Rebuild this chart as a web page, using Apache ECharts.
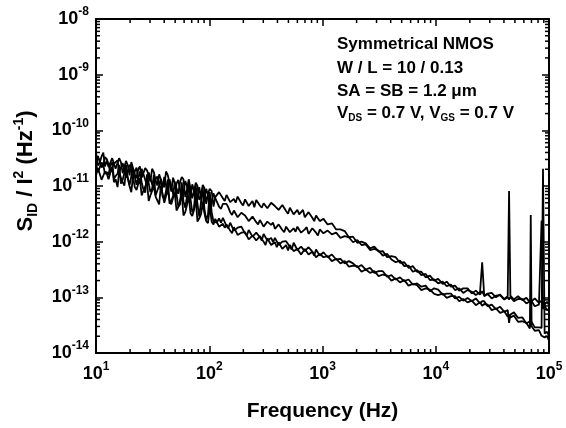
<!DOCTYPE html>
<html><head><meta charset="utf-8">
<script src="https://cdn.jsdelivr.net/npm/echarts@6/dist/echarts.min.js"></script>
<style>html,body{margin:0;padding:0;background:#fff}#c{width:566px;height:428px}</style>
</head><body><div id="c"></div>
<script>
// Frequency points (Hz), main sweep
const freq = [
 10,10.8,11.6,12.5,13.4,14.4,15.5,16.6,17.8,19.1,20.5,22,23.6,25.3,27.2,29.2,31.3,33.6,36.1,38.7,41.5,44.6,47.9,51.4,55.2,59.2,63.6,68.3,73.3,78.7,84.5,90.7,97.4,
 105,113,122,132,142,153,165,178,192,207,223,241,260,280,302,326,352,380,410,442,477,515,556,600,647,698,753,813,877,946,
 1020,1110,1210,1320,1440,1570,1710,1860,2030,2210,2410,2630,2870,3130,3410,3720,4060,4430,4830,5270,5750,6270,6840,7460,8140,8880,9690,
 10500,11500,12500,13600,14800,16100,17500,19100,20800,22600,24600,25700,26800,28700,31200,34000,37000,40300,43200,44400,45600,49000,53300,58000,63200,67800,69000,70200,74900,81500,86000,88500,91500,96000,100000
];
// S_ID / I^2 (1/Hz), four devices, main sweep
const sA = [
 3.98e-11,2.63e-11,3.98e-11,2.88e-11,2.14e-11,3.24e-11,2.19e-11,2.69e-11,1.66e-11,2.34e-11,2.69e-11,1.62e-11,2.0e-11,1.41e-11,2.09e-11,1.55e-11,2.04e-11,1.26e-11,1.62e-11,1.05e-11,1.82e-11,1.15e-11,1.41e-11,9.12e-12,1.17e-11,1.32e-11,8.51e-12,1.26e-11,7.94e-12,1.0e-11,6.61e-12,9.12e-12,7.24e-12,
 8.13e-12,6.31e-12,7.76e-12,6.03e-12,6.92e-12,5.13e-12,5.89e-12,6.46e-12,4.90e-12,5.75e-12,4.37e-12,5.37e-12,5.62e-12,4.47e-12,4.90e-12,3.98e-12,5.01e-12,4.37e-12,3.72e-12,4.57e-12,3.55e-12,4.07e-12,3.09e-12,3.72e-12,3.39e-12,2.75e-12,3.39e-12,2.69e-12,2.95e-12,2.34e-12,
 2.57e-12,2.04e-12,2.14e-12,1.66e-12,1.66e-12,1.55e-12,1.20e-12,1.23e-12,9.55e-13,1.0e-12,9.33e-13,7.59e-13,8.13e-13,6.61e-13,6.76e-13,5.25e-13,5.50e-13,5.25e-13,4.17e-13,4.27e-13,3.39e-13,3.63e-13,2.88e-13,2.88e-13,2.29e-13,2.45e-13,2.0e-13,
 2.14e-13,1.74e-13,1.91e-13,1.55e-13,1.62e-13,1.32e-13,1.45e-13,1.45e-13,1.17e-13,1.32e-13,1.12e-13,1.29e-13,1.07e-13,1.17e-13,1.20e-13,1.0e-13,1.12e-13,9.33e-14,1.05e-13,8.13e-12,1.07e-13,9.12e-14,1.05e-13,8.91e-14,9.77e-14,8.13e-14,9.55e-14,8.51e-14,9.55e-14,7.94e-14,8.71e-14,8.91e-14,7.41e-14,8.32e-14,7.24e-14
];
const sB = [
 2.34e-11,3.55e-11,2.40e-11,3.02e-11,1.82e-11,2.51e-11,2.88e-11,1.70e-11,2.0e-11,1.38e-11,2.09e-11,1.82e-11,1.29e-11,2.04e-11,1.29e-11,1.74e-11,1.07e-11,1.32e-11,1.55e-11,9.77e-12,1.05e-11,1.32e-11,7.41e-12,1.10e-11,1.23e-11,7.76e-12,1.0e-11,6.17e-12,8.32e-12,6.03e-12,8.91e-12,6.03e-12,6.92e-12,
 5.25e-12,6.03e-12,4.27e-12,4.79e-12,4.79e-12,3.39e-12,3.63e-12,2.75e-12,3.31e-12,2.95e-12,2.34e-12,2.82e-12,2.24e-12,2.45e-12,1.86e-12,2.29e-12,2.0e-12,1.70e-12,2.04e-12,1.62e-12,1.86e-12,1.48e-12,1.74e-12,1.86e-12,1.45e-12,1.66e-12,1.38e-12,1.74e-12,1.45e-12,1.66e-12,
 1.41e-12,1.58e-12,1.35e-12,1.45e-12,1.17e-12,1.26e-12,1.20e-12,9.77e-13,1.07e-12,8.71e-13,8.91e-13,7.08e-13,7.41e-13,6.92e-13,5.62e-13,6.03e-13,4.79e-13,4.27e-13,4.57e-13,3.63e-13,3.72e-13,2.88e-13,3.09e-13,2.51e-13,2.63e-13,2.04e-13,2.09e-13,
 1.78e-13,1.91e-13,1.58e-13,1.70e-13,1.35e-13,1.45e-13,1.20e-13,1.35e-13,1.26e-13,1.10e-13,1.23e-13,4.27e-13,1.05e-13,1.15e-13,9.55e-14,1.07e-13,1.10e-13,9.12e-14,1.0e-13,9.12e-14,1.02e-13,8.51e-14,9.33e-14,9.33e-14,7.76e-14,8.51e-14,7.59e-14,8.51e-14,6.92e-14,7.41e-14,2.40e-12,6.17e-14,7.08e-14,5.89e-14,6.17e-14
];
const sC = [
 2.51e-11,1.66e-11,2.40e-11,1.78e-11,2.34e-11,1.35e-11,1.66e-11,1.10e-11,1.74e-11,1.35e-11,1.05e-11,1.48e-11,1.0e-11,1.17e-11,7.59e-12,1.12e-11,8.91e-12,6.76e-12,1.02e-11,6.46e-12,7.94e-12,4.79e-12,6.61e-12,7.08e-12,4.68e-12,5.25e-12,3.80e-12,5.89e-12,3.89e-12,4.79e-12,2.88e-12,3.89e-12,3.02e-12,
 3.39e-12,2.40e-12,2.63e-12,2.69e-12,1.91e-12,2.19e-12,1.58e-12,1.78e-12,1.86e-12,1.41e-12,1.62e-12,1.23e-12,1.45e-12,1.20e-12,1.38e-12,1.05e-12,1.17e-12,1.17e-12,8.71e-13,1.0e-12,1.02e-12,8.13e-13,9.55e-13,7.08e-13,8.13e-13,6.76e-13,7.94e-13,6.61e-13,7.24e-13,5.62e-13,
 6.46e-13,5.25e-13,5.89e-13,4.79e-13,4.90e-13,4.07e-13,4.47e-13,4.07e-13,3.47e-13,3.80e-13,3.16e-13,3.39e-13,2.75e-13,2.95e-13,2.95e-13,2.34e-13,2.51e-13,2.09e-13,2.29e-13,1.95e-13,2.09e-13,1.70e-13,1.78e-13,1.55e-13,1.62e-13,1.29e-13,1.45e-13,
 1.38e-13,1.12e-13,1.17e-13,1.17e-13,9.55e-14,1.02e-13,8.71e-14,9.77e-14,8.51e-14,9.55e-14,7.76e-14,8.51e-14,8.51e-14,6.92e-14,7.41e-14,6.17e-14,6.76e-14,5.50e-14,5.89e-14,3.47e-14,4.90e-14,5.37e-14,4.27e-14,4.37e-14,3.39e-14,3.72e-14,3.24e-14,3.63e-14,2.88e-14,2.88e-14,2.82e-14,2.04e-11,2.24e-14,2.40e-14,2.04e-14
];
const sD = [
 1.55e-11,2.04e-11,1.20e-11,1.62e-11,1.74e-11,1.17e-11,9.55e-12,1.38e-11,1.02e-11,1.38e-11,7.76e-12,9.55e-12,1.10e-11,6.76e-12,8.51e-12,5.37e-12,8.13e-12,6.46e-12,4.68e-12,7.24e-12,4.79e-12,5.62e-12,6.17e-12,3.63e-12,4.37e-12,2.95e-12,4.57e-12,3.24e-12,3.72e-12,2.29e-12,3.09e-12,3.24e-12,2.14e-12,
 2.29e-12,2.57e-12,1.86e-12,2.09e-12,2.04e-12,1.58e-12,1.82e-12,1.32e-12,1.45e-12,1.48e-12,1.10e-12,1.29e-12,1.05e-12,1.26e-12,1.0e-12,1.15e-12,8.71e-13,9.77e-13,9.77e-13,7.41e-13,8.71e-13,8.71e-13,6.76e-13,7.41e-13,5.89e-13,7.41e-13,5.89e-13,6.61e-13,5.25e-13,6.03e-13,
 5.25e-13,5.50e-13,4.47e-13,4.90e-13,4.07e-13,4.47e-13,3.55e-13,3.72e-13,3.63e-13,2.88e-13,3.16e-13,2.75e-13,2.95e-13,2.40e-13,2.57e-13,2.45e-13,2.0e-13,2.19e-13,1.86e-13,2.04e-13,1.62e-13,1.74e-13,1.66e-13,1.35e-13,1.45e-13,1.38e-13,1.15e-13,
 1.10e-13,1.17e-13,9.77e-14,1.05e-13,1.05e-13,8.51e-14,9.33e-14,8.13e-14,8.71e-14,7.24e-14,8.13e-14,7.08e-14,7.59e-14,7.41e-14,5.89e-14,6.31e-14,5.25e-14,5.62e-14,4.47e-14,4.90e-14,4.37e-14,4.68e-14,3.63e-14,3.72e-14,3.47e-14,2.75e-14,3.02e-12,3.02e-14,2.51e-14,2.57e-14,2.04e-14,2.19e-14,1.91e-14,2.0e-14,1.66e-14
];
// extra low-frequency readings (Hz) and values
const freqX = [
 10.4,11.2,12.0,12.9,13.9,14.9,16.0,17.2,18.4,19.8,21.2,22.8,24.4,26.2,28.2,30.2,32.4,34.8,37.4,40.1,43.0,46.2,49.6,53.3,57.2,61.4,65.9,70.8,76.0,81.6,87.6,94.0,
 101,109,117,127,137,147,159,171,185,199,215,232,250,270,291,314,339,366,395,426,459,496,535,578,623,672,725,783,845,911
];
const sAx = [
 2.34e-11,3.39e-11,2.24e-11,2.19e-11,3.16e-11,2.04e-11,3.16e-11,1.70e-11,2.82e-11,1.55e-11,2.57e-11,1.38e-11,2.24e-11,1.32e-11,1.91e-11,1.20e-11,1.78e-11,1.02e-11,1.62e-11,9.55e-12,1.58e-11,7.94e-12,1.51e-11,7.24e-12,1.45e-11,6.31e-12,1.32e-11,6.03e-12,1.15e-11,5.62e-12,1.05e-11,4.79e-12,
 8.91e-12,4.27e-12,6.03e-12,7.76e-12,5.37e-12,6.76e-12,4.79e-12,5.01e-12,6.17e-12,4.47e-12,6.03e-12,4.47e-12,4.17e-12,5.50e-12,4.07e-12,5.13e-12,3.72e-12,4.68e-12,4.68e-12,3.47e-12,4.27e-12,3.16e-12,4.07e-12,3.09e-12,3.09e-12,3.72e-12,2.63e-12,3.24e-12,2.34e-12,3.02e-12
];
const sBx = [
 3.47e-11,2.14e-11,3.31e-11,3.02e-11,1.95e-11,2.69e-11,1.74e-11,2.57e-11,1.41e-11,2.40e-11,1.29e-11,2.14e-11,1.12e-11,2.04e-11,1.05e-11,1.70e-11,9.55e-12,1.48e-11,8.32e-12,1.45e-11,7.08e-12,1.41e-11,6.46e-12,1.29e-11,5.50e-12,1.23e-11,5.25e-12,1.07e-11,4.90e-12,9.55e-12,4.17e-12,8.91e-12,
 3.63e-12,7.41e-12,5.62e-12,3.89e-12,4.79e-12,4.17e-12,3.02e-12,3.80e-12,2.69e-12,3.31e-12,2.95e-12,2.19e-12,2.82e-12,2.04e-12,2.51e-12,1.78e-12,2.24e-12,2.19e-12,1.62e-12,2.04e-12,1.48e-12,1.86e-12,1.38e-12,1.51e-12,1.82e-12,1.38e-12,1.82e-12,1.38e-12,1.74e-12,1.29e-12
];
const sCx = [
 1.78e-11,2.63e-11,1.66e-11,1.58e-11,2.69e-11,1.51e-11,2.40e-11,1.29e-11,2.40e-11,1.05e-11,2.09e-11,1.05e-11,1.82e-11,8.71e-12,1.62e-11,7.76e-12,1.58e-11,6.46e-12,1.35e-11,5.89e-12,1.32e-11,5.37e-12,1.20e-11,4.27e-12,1.17e-11,4.07e-12,1.05e-11,3.39e-12,1.02e-11,2.82e-12,9.33e-12,2.45e-12,
 7.76e-12,2.29e-12,2.19e-12,2.19e-12,2.57e-12,1.74e-12,2.09e-12,1.48e-12,1.82e-12,1.78e-12,1.29e-12,1.66e-12,1.20e-12,1.48e-12,1.05e-12,1.32e-12,9.77e-13,9.77e-13,1.20e-12,8.71e-13,1.07e-12,9.55e-13,7.24e-13,9.33e-13,6.92e-13,8.71e-13,6.31e-13,7.76e-13,5.62e-13,7.41e-13
];
const sDx = [
 2.09e-11,1.29e-11,1.82e-11,1.32e-11,2.19e-11,1.32e-11,1.82e-11,1.17e-11,1.82e-11,9.77e-12,1.51e-11,8.51e-12,1.38e-11,8.13e-12,1.17e-11,6.76e-12,1.0e-11,6.03e-12,1.0e-11,5.01e-12,8.71e-12,4.68e-12,7.59e-12,4.17e-12,7.08e-12,3.39e-12,6.61e-12,2.88e-12,5.89e-12,2.63e-12,4.90e-12,2.34e-12,
 4.27e-12,2.04e-12,2.63e-12,1.82e-12,1.78e-12,2.04e-12,1.41e-12,1.74e-12,1.23e-12,1.48e-12,1.48e-12,1.07e-12,1.38e-12,1.0e-12,1.23e-12,8.71e-13,1.12e-12,8.71e-13,7.94e-13,1.02e-12,7.41e-13,6.92e-13,8.91e-13,6.61e-13,7.94e-13,5.62e-13,7.41e-13,5.50e-13,6.92e-13,5.01e-13
];
// axis ranges and texts
const xMin = 10, xMax = 1e5, yMin = 1e-14, yMax = 1e-8;
const xTitle = 'Frequency (Hz)';
const noteLines = ['Symmetrical NMOS', 'W / L = 10 / 0.13', 'SA = SB = 1.2 \u03bcm'];

const FONT = '"Liberation Sans", Arial, Helvetica, sans-serif';
const minorX = []; for (let e = 1; e < 5; e++) for (let m = 2; m <= 9; m++) minorX.push(m * Math.pow(10, e));
const minorY = []; for (let e = -14; e < -8; e++) for (let m = 2; m <= 9; m++) minorY.push(m * Math.pow(10, e));

function buildPairs(f1, v1, f2, v2) {
  const pts = f1.map((f, i) => [f, v1[i]]).concat(f2.map((f, i) => [f, v2[i]]));
  pts.sort((a, b) => a[0] - b[0]);
  return pts;
}

const labRich = {
  b: { fontSize: 18, fontWeight: 'bold', fontFamily: FONT, color: '#000', lineHeight: 26, verticalAlign: 'middle' },
  s: { fontSize: 12, fontWeight: 'bold', fontFamily: FONT, color: '#000', lineHeight: 12, verticalAlign: 'top' }
};
const expFmt = v => '{b|10}{s|' + Math.round(Math.log10(v)) + '}';
const black = { color: '#000', width: 2 };

const chart = echarts.init(document.getElementById('c'), null, { renderer: 'canvas' });
const lineSeries = [[sA, sAx], [sB, sBx], [sC, sCx], [sD, sDx]].map((arrs, k) => ({
  type: 'line', name: 'dev' + k, xAxisIndex: 0, yAxisIndex: 0,
  data: buildPairs(freq, arrs[0], freqX, arrs[1]),
  showSymbol: false, symbol: 'none', smooth: false,
  lineStyle: { color: '#000', width: 1.8 }, itemStyle: { color: '#000' },
  animation: false, z: 2
}));
const tickLen = 4;
const minorXSeries = {
  type: 'custom', xAxisIndex: 0, yAxisIndex: 0, clip: false, silent: true, animation: false, z: 5,
  data: minorX.map(v => [v, yMin]),
  renderItem: (params, api) => {
    const v = api.value(0);
    const p0 = api.coord([v, yMin]), p1 = api.coord([v, yMax]);
    return { type: 'group', children: [
      { type: 'line', shape: { x1: p0[0], y1: p0[1], x2: p0[0], y2: p0[1] - tickLen }, style: { stroke: '#000', lineWidth: 1.5 } },
      { type: 'line', shape: { x1: p1[0], y1: p1[1], x2: p1[0], y2: p1[1] + tickLen }, style: { stroke: '#000', lineWidth: 1.5 } }
    ] };
  }
};
const minorYSeries = {
  type: 'custom', xAxisIndex: 0, yAxisIndex: 0, clip: false, silent: true, animation: false, z: 5,
  data: minorY.map(v => [xMin, v]),
  renderItem: (params, api) => {
    const v = api.value(1);
    const p0 = api.coord([xMin, v]), p1 = api.coord([xMax, v]);
    return { type: 'group', children: [
      { type: 'line', shape: { x1: p0[0], y1: p0[1], x2: p0[0] + tickLen, y2: p0[1] }, style: { stroke: '#000', lineWidth: 1.5 } },
      { type: 'line', shape: { x1: p1[0], y1: p1[1], x2: p1[0] - tickLen, y2: p1[1] }, style: { stroke: '#000', lineWidth: 1.5 } }
    ] };
  }
};

const baseAxis = {
  type: 'log', logBase: 10,
  axisLine: { show: true, onZero: false, lineStyle: black },
  axisTick: { show: true, inside: true, length: 7, lineStyle: { color: '#000', width: 1.5 } },
  splitLine: { show: false }, minorTick: { show: false }, minorSplitLine: { show: false }
};
const titleRich = {
  b: { fontSize: 22, fontWeight: 'bold', fontFamily: FONT, fill: '#000', color: '#000', lineHeight: 28, verticalAlign: 'middle' },
  sub: { fontSize: 14, fontWeight: 'bold', fontFamily: FONT, fill: '#000', color: '#000', lineHeight: 22, verticalAlign: 'bottom' },
  sup: { fontSize: 14, fontWeight: 'bold', fontFamily: FONT, fill: '#000', color: '#000', lineHeight: 18, verticalAlign: 'top' }
};
const noteRich = {
  b: { fontSize: 17, fontWeight: 'bold', fontFamily: FONT, fill: '#000', color: '#000', lineHeight: 20, verticalAlign: 'middle' },
  sub: { fontSize: 10, fontWeight: 'bold', fontFamily: FONT, fill: '#000', color: '#000', lineHeight: 14, verticalAlign: 'bottom' }
};
const noteY = [44, 68, 91];
const graphic = noteLines.map((t, i) => ({
  type: 'text', x: 337, y: noteY[i], silent: true,
  style: { text: t, fontSize: 17, fontWeight: 'bold', fontFamily: FONT, fill: '#000', align: 'left', verticalAlign: 'middle' }
}));
graphic.push({
  type: 'text', x: 337, y: 113, silent: true,
  style: { text: '{b|V}{sub|DS}{b| = 0.7 V, V}{sub|GS}{b| = 0.7 V}', rich: noteRich, fill: '#000', align: 'left', verticalAlign: 'middle' }
});
graphic.push({
  type: 'text', x: 26, y: 171, rotation: Math.PI / 2, silent: true,
  style: { text: '{b|S}{sub|ID}{b| / I}{sup|2}{b| (Hz}{sup|-1}{b|)}', rich: titleRich, fill: '#000', align: 'center', verticalAlign: 'middle' }
});

chart.setOption({
  animation: false,
  backgroundColor: '#fff',
  grid: { left: 96, right: 17, top: 19, bottom: 75, containLabel: false, outerBoundsMode: 'none', show: false },
  xAxis: [
    Object.assign({}, baseAxis, {
      position: 'bottom', min: xMin, max: xMax, splitNumber: 4,
      axisLabel: { show: true, margin: 8, formatter: expFmt, rich: labRich, showMinLabel: true, showMaxLabel: true },
      name: xTitle, nameLocation: 'middle', nameGap: 48,
      nameTextStyle: { fontSize: 21, fontWeight: 'bold', fontFamily: FONT, color: '#000' }
    }),
    Object.assign({}, baseAxis, { position: 'top', min: xMin, max: xMax, splitNumber: 4, axisLabel: { show: false } })
  ],
  yAxis: [
    Object.assign({}, baseAxis, {
      position: 'left', min: yMin, max: yMax, splitNumber: 6,
      axisLabel: { show: true, margin: 7, formatter: expFmt, rich: labRich, showMinLabel: true, showMaxLabel: true }
    }),
    Object.assign({}, baseAxis, { position: 'right', min: yMin, max: yMax, splitNumber: 6, axisLabel: { show: false } })
  ],
  series: lineSeries.concat([minorXSeries, minorYSeries]),
  graphic: graphic
});
</script>
</body></html>
